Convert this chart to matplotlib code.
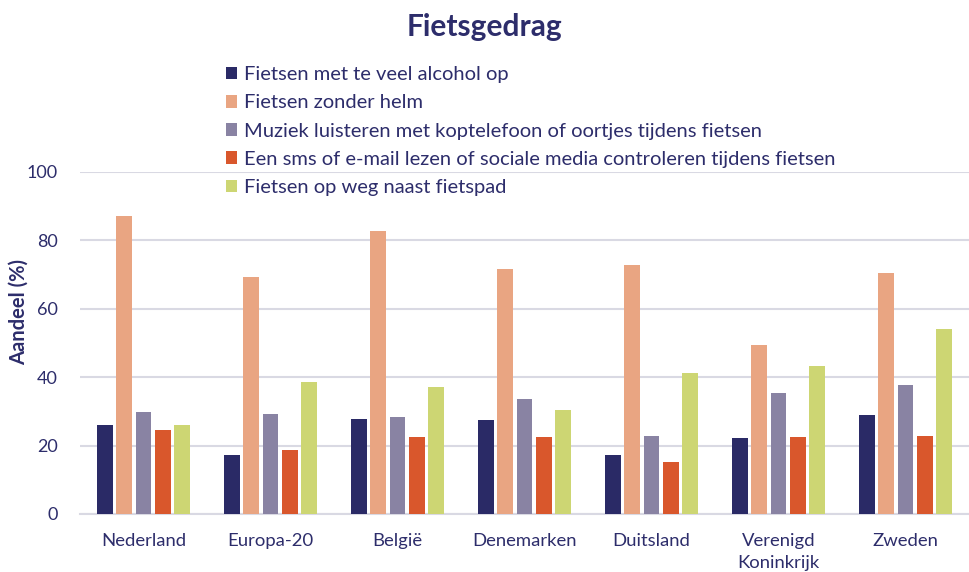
import matplotlib.pyplot as plt
import numpy as np

plt.rcParams['font.family'] = ['Lato', 'DejaVu Sans']

categories = ['Nederland', 'Europa-20', 'België', 'Denemarken', 'Duitsland',
              'Verenigd\nKoninkrijk', 'Zweden']
series_names = ['Fietsen met te veel alcohol op',
                'Fietsen zonder helm',
                'Muziek luisteren met koptelefoon of oortjes tijdens fietsen',
                'Een sms of e-mail lezen of sociale media controleren tijdens fietsen',
                'Fietsen op weg naast fietspad']
alcohol = [26.0, 17.2, 27.9, 27.6, 17.2, 22.1, 28.9]
zonder_helm = [87.0, 69.3, 82.7, 71.7, 72.9, 49.5, 70.4]
muziek = [29.9, 29.2, 28.3, 33.7, 22.7, 35.3, 37.8]
sms = [24.6, 18.7, 22.4, 22.4, 15.1, 22.4, 22.7]
naast_fietspad = [26.0, 38.6, 37.1, 30.4, 41.1, 43.2, 54.0]

colors = ['#2a2a66', '#e9a582', '#8983a3', '#d9572c', '#cdd673']
text_col = '#2d2d6b'

fig = plt.figure(figsize=(9.69, 5.72), dpi=100)
ax = fig.add_axes([80/969, 58/572, 889/969, 342/572])

x = np.arange(len(categories))
pitch = 0.152
width = 0.122
data = [alcohol, zonder_helm, muziek, sms, naast_fietspad]
for i, (vals, name) in enumerate(zip(data, series_names)):
    ax.bar(x + (i - 2) * pitch, vals, width, color=colors[i], label=name, zorder=3)

ax.set_xlim(-0.5, len(categories) - 0.5)
ax.set_ylim(0, 100)
ax.set_yticks([0, 20, 40, 60, 80, 100])
ax.set_xticks(x)
ax.set_xticklabels(categories, fontsize=13.3, color=text_col, linespacing=1.4)
ax.tick_params(axis='y', labelsize=13, labelcolor=text_col, length=0, pad=16)
ax.tick_params(axis='x', length=0, pad=14)
ax.yaxis.grid(True, color='#d9d9e3', linewidth=1.5, zorder=0)
for s in ['left', 'right', 'top']:
    ax.spines[s].set_visible(False)
ax.spines['bottom'].set_color('#d9d9e3')
ax.spines['bottom'].set_linewidth(1.5)
ax.set_ylabel('Aandeel (%)', fontsize=14.5, fontweight='bold', color=text_col)
ax.yaxis.set_label_coords(-0.058, 0.59)

fig.text(0.5, 1 - 27/572, 'Fietsgedrag', ha='center', va='center',
         fontsize=21.5, fontweight='bold', color=text_col)

leg = fig.legend(loc='upper left', bbox_to_anchor=(218/969, 1 - 58/572), frameon=False,
                 fontsize=14.5, handlelength=0.55, handleheight=0.6, handletextpad=0.35,
                 labelspacing=0.56, borderaxespad=0)
for t in leg.get_texts():
    t.set_color(text_col)

fig.savefig('out.png', dpi=100)
